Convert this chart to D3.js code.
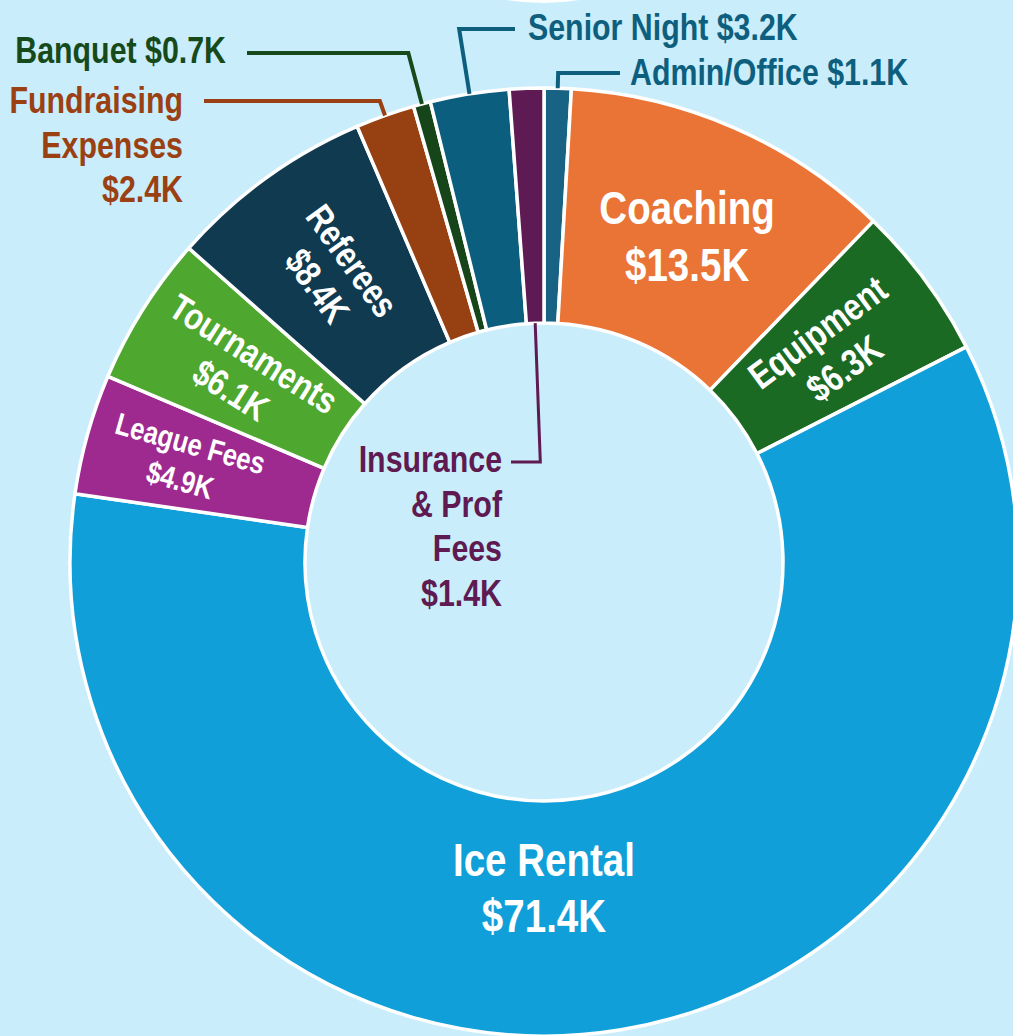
<!DOCTYPE html>
<html>
<head>
<meta charset="utf-8">
<script src="https://cdn.jsdelivr.net/npm/d3@7"></script>
<style>
  html, body { margin: 0; padding: 0; background: #c9edfb; }
  svg { display: block; }
  text { font-family: "Liberation Sans", Arial, sans-serif; font-weight: bold; }
</style>
</head>
<body>
<svg id="chart"></svg>
<script>
var width = 1013, height = 1036;

// data, clockwise from 12 o'clock
var categories = ["Admin/Office", "Coaching", "Equipment", "Ice Rental", "League Fees", "Tournaments",
  "Referees", "Fundraising Expenses", "Banquet", "Senior Night", "Insurance & Prof Fees"];
var values = [1.1, 13.5, 6.3, 71.4, 4.9, 6.1, 8.4, 2.4, 0.7, 3.2, 1.4];   // $K
var sliceColors = ["#186383", "#e97435", "#1b6a24", "#109fd8", "#9f2a8f", "#4ea72e",
  "#103a4f", "#974012", "#154519", "#0b5e7e", "#5e1a52"];
var labelColors = ["#0e5f7e", "#ffffff", "#ffffff", "#ffffff", "#ffffff", "#ffffff",
  "#ffffff", "#9a4012", "#174a1a", "#0e5f7e", "#5f1a52"];

var cx = 544, cy = 562, rIn = 239, rOut = 474;
var narrow = 0.82;   // squeeze Liberation Sans down to a narrow face

var color = d3.scaleOrdinal().domain(categories).range(sliceColors);
var labelColor = d3.scaleOrdinal().domain(categories).range(labelColors);

function money(v) { return "$" + v.toFixed(1) + "K"; }

// label layout (inside labels follow the slice, outside ones get a leader)
var layout = {
  "Admin/Office":  { out: true, edge: rOut, ly: 73, lx: 620, tx: 630, ty: 85, anchor: "start", lines: function (v) { return ["Admin/Office " + money(v)]; } },
  "Senior Night":  { out: true, edge: rOut, ly: 29, lx: 515, tx: 528, ty: 40, anchor: "start", lines: function (v) { return ["Senior Night " + money(v)]; } },
  "Banquet":       { out: true, edge: rOut, ly: 53, lx: 247, tx: 226, ty: 63, anchor: "end", lines: function (v) { return ["Banquet " + money(v)]; } },
  "Fundraising Expenses": { out: true, edge: rOut, ly: 101, lx: 204, tx: 183, ty: 113, anchor: "end", lines: function (v) { return ["Fundraising", "Expenses", money(v)]; } },
  "Insurance & Prof Fees": { out: true, edge: rIn, ly: 462, lx: 511, tx: 502, ty: 472, anchor: "end", lw: 3, lines: function (v) { return ["Insurance", "& Prof", "Fees", money(v)]; } },
  "Coaching":    { fs: 47, lh: 57, rot: "none", lines: function (v) { return ["Coaching", money(v)]; } },
  "Equipment":   { fs: 38, lh: 45, rot: "out", lines: function (v) { return ["Equipment", money(v)]; } },
  "Ice Rental":  { fs: 47, lh: 56, rot: "none", angle: Math.PI, r: 325, lines: function (v) { return ["Ice Rental", money(v)]; } },
  "League Fees": { fs: 31, lh: 38, rot: "in", dr: 16, lines: function (v) { return ["League Fees", money(v)]; } },
  "Tournaments": { fs: 37, lh: 43, rot: "in", lines: function (v) { return ["Tournaments", money(v)]; } },
  "Referees":    { fs: 37, lh: 43, rot: "in", lines: function (v) { return ["Referees", money(v)]; } }
};

var data = categories.map(function (c, i) { return { name: c, value: values[i] }; });

var svg = d3.select("#chart").attr("width", width).attr("height", height);

svg.append("rect").attr("width", width).attr("height", height).attr("fill", "#c9edfb");
// edge of the shape above, peeking in at the top
svg.append("circle").attr("cx", 543).attr("cy", -220).attr("r", 223).attr("fill", "#ffffff");

var g = svg.append("g").attr("transform", "translate(" + cx + "," + cy + ")");

var pie = d3.pie().sort(null).value(function (d) { return d.value; });
var arc = d3.arc().innerRadius(rIn).outerRadius(rOut);
var arcs = pie(data);

g.selectAll("path.slice")
  .data(arcs)
  .enter()
  .append("path")
  .attr("class", "slice")
  .attr("d", arc)
  .attr("fill", function (d) { return color(d.data.name); })
  .attr("stroke", "#ffffff")
  .attr("stroke-width", 3.5)
  .attr("stroke-linejoin", "round");

function midAngle(d) { return (d.startAngle + d.endAngle) / 2; }

// inside labels
arcs.filter(function (d) { return !layout[d.data.name].out; }).forEach(function (d) {
  var L = layout[d.data.name];
  var a = L.angle !== undefined ? L.angle : midAngle(d);
  var r = L.r !== undefined ? L.r : (rIn + rOut) / 2 + (L.dr || 0);
  var x = r * Math.sin(a), y = -r * Math.cos(a);
  var deg = a * 180 / Math.PI;
  var rot = L.rot === "out" ? deg - 90 : (L.rot === "in" ? deg + 90 : 0);
  var lines = L.lines(d.data.value);
  var lab = g.append("g").attr("transform", "translate(" + x + "," + y + ") rotate(" + rot + ")");
  lab.selectAll("text")
    .data(lines)
    .enter()
    .append("text")
    .attr("transform", function (t, i) {
      return "translate(0," + ((i - (lines.length - 1) / 2) * L.lh + L.fs * 0.36) + ") scale(" + narrow + ",1)";
    })
    .attr("text-anchor", "middle")
    .attr("font-size", L.fs + "px")
    .attr("fill", labelColor(d.data.name))
    .text(function (t) { return t; });
});

// outside labels with elbow leaders
arcs.filter(function (d) { return layout[d.data.name].out; }).forEach(function (d) {
  var L = layout[d.data.name];
  var a = midAngle(d);
  var ux = Math.sin(a), uy = -Math.cos(a);
  var p0 = [cx + L.edge * ux, cy + L.edge * uy];
  // slide along the radius until we reach the leader's row
  var t = (L.ly - p0[1]) / uy;
  var p1 = [p0[0] + t * ux, L.ly];
  var p2 = [L.lx, L.ly];
  svg.append("path")
    .attr("d", d3.line()([p0, p1, p2]))
    .attr("fill", "none")
    .attr("stroke", labelColor(d.data.name))
    .attr("stroke-width", L.lw || 4);
  var lines = L.lines(d.data.value);
  svg.selectAll(null)
    .data(lines)
    .enter()
    .append("text")
    .attr("transform", function (s, i) { return "translate(" + L.tx + "," + (L.ty + i * 44.5) + ") scale(" + narrow + ",1)"; })
    .attr("text-anchor", L.anchor)
    .attr("font-size", "37px")
    .attr("fill", labelColor(d.data.name))
    .text(function (s) { return s; });
});
</script>
</body>
</html>
